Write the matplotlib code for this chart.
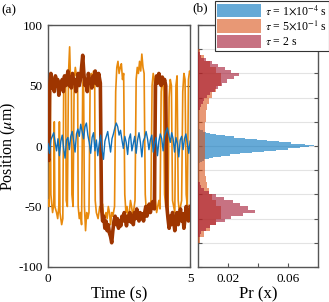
import matplotlib
matplotlib.use('Agg')
import matplotlib.pyplot as plt
import numpy as np

plt.rcParams['font.family'] = ['Liberation Serif', 'DejaVu Serif']
plt.rcParams['mathtext.fontset'] = 'stix'

# ---- time traces (panel a) ----
t_blue = np.linspace(0, 5, 101)
x_blue = [2, -6, 5, 8, 11, 3, -4, 6, -8, 4, 9, -2, -10, 5, 7, -3, 8, 12, 4, -5,
          10, 14, 8, 18, 12, 6, 16, 19, 9, 3, -6, 7, 11, -4, 5, -8, 2, 9, -3, -11,
          4, 8, 12, 3, -5, 6, 10, 15, 19, 16, 9, 13, 5, -2, 8, 3, -7, 6, 10, -4,
          2, 8, -6, 5, 11, 3, -9, 4, 7, 12, 6, -3, 5, 9, -5, 2, 7, -8, 4, 10,
          6, -4, 8, 12, 15, 9, 3, 11, 6, -5, 7, 2, -9, 5, 8, -3, 6, 10, 2, -6, 4]

t_orange = [0.00, 0.04, 0.06, 0.08, 0.10, 0.16, 0.20, 0.22, 0.24, 0.30, 0.34, 0.38, 0.40, 0.42,
            0.48, 0.52, 0.55, 0.58, 0.62, 0.64, 0.68, 0.72, 0.76, 0.79, 0.82, 0.84, 0.88, 0.92,
            0.96, 1.00, 1.04, 1.06, 1.10, 1.14, 1.18, 1.22, 1.25, 1.28, 1.32, 1.36, 1.40, 1.44,
            1.48, 1.52, 1.56, 1.60, 1.64, 1.66, 1.70, 1.76, 1.82, 1.88, 1.92, 1.96, 2.00, 2.04,
            2.08, 2.12, 2.16, 2.20, 2.24, 2.28, 2.34, 2.38, 2.42, 2.46, 2.50, 2.54, 2.58, 2.62,
            2.66, 2.70, 2.74, 2.78, 2.82, 2.86, 2.90, 2.94, 2.98, 3.02, 3.06, 3.10, 3.14, 3.18,
            3.22, 3.26, 3.30, 3.34, 3.38, 3.42, 3.46, 3.50, 3.54, 3.58, 3.62, 3.66, 3.70, 3.74,
            3.78, 3.82, 3.86, 3.90, 3.94, 3.98, 4.02, 4.06, 4.10, 4.14, 4.18, 4.22, 4.26, 4.30,
            4.34, 4.38, 4.42, 4.46, 4.50, 4.54, 4.58, 4.62, 4.66, 4.70, 4.74, 4.78, 4.82, 4.86,
            4.90, 4.94, 4.98, 5.00]
x_orange = [-45, -50, 30, 45, -40, -55, -48, 20, -50, -55, -60, -50, 20, -55,
            -65, -60, 45, 55, 50, -45, -50, 60, 82, 55, 60, -40, -50, 55,
            65, 58, 60, -50, -60, -55, -65, 50, 55, -50, -70, -55, -60, -55,
            50, 60, 55, 62, 58, -45, -55, -60, -50, -55, -48, -62, -58, -55,
            -60, -50, -55, -65, -55, -58, -50, 45, 65, 70, 60, 65, 68, 55,
            60, -40, -55, -50, -60, -55, -45, -50, -58, -52, -45, 55, 65, 60,
            70, 62, 76, 65, 60, -40, -55, -50, -48, -55, -45, 50, 60, 55,
            -45, -55, -50, -45, -52, 45, 55, 50, -40, -50, -45, -55, 40, 55,
            50, -45, -50, -55, 50, 58, -45, -55, -50, -45, 45, 60, 55, -40,
            -50, 55, 62, 60]

t_dark = [0.00, 0.03, 0.06, 0.10, 0.14, 0.18, 0.22, 0.26, 0.30, 0.34, 0.38, 0.42, 0.46, 0.50,
          0.54, 0.58, 0.62, 0.66, 0.70, 0.74, 0.78, 0.82, 0.86, 0.90, 0.94, 0.98, 1.02, 1.06,
          1.10, 1.14, 1.18, 1.22, 1.26, 1.30, 1.34, 1.38, 1.42, 1.46, 1.50, 1.54, 1.58, 1.62,
          1.66, 1.70, 1.74, 1.78, 1.84, 1.88, 1.92, 1.96, 2.00, 2.04, 2.08, 2.12, 2.16, 2.20,
          2.24, 2.28, 2.32, 2.36, 2.40, 2.44, 2.48, 2.52, 2.56, 2.60, 2.64, 2.68, 2.72, 2.76,
          2.80, 2.84, 2.88, 2.92, 2.96, 3.00, 3.04, 3.08, 3.12, 3.16, 3.20, 3.24, 3.28, 3.32,
          3.36, 3.40, 3.44, 3.48, 3.52, 3.56, 3.60, 3.64, 3.68, 3.74, 3.78, 3.82, 3.86, 3.90,
          3.94, 3.98, 4.02, 4.06, 4.10, 4.14, 4.18, 4.22, 4.26, 4.30, 4.34, 4.38, 4.42, 4.46,
          4.50, 4.54, 4.58, 4.62, 4.66, 4.70, 4.74, 4.78, 4.82, 4.86, 4.90, 4.94, 4.98, 5.00]
x_dark = [-10, -12, 50, 60, 48, 55, 45, 58, 50, 55, 42, 52, 48, 55,
          45, 58, 50, 55, 62, 50, 57, 48, 60, 52, 55, 45, 52, 60,
          50, 55, 65, 75, 60, 50, 55, 45, 60, 52, 55, 48, 58, 52,
          62, 55, 50, 60, 52, -50, -62, -58, -68, -62, -70, -65, -72, -75,
          -80, -70, -62, -58, -65, -60, -68, -62, -66, -58, -62, -55, -60, -66,
          -58, -62, -55, -63, -58, -65, -55, -60, -52, -58, -62, -55, -60, -56,
          -62, -55, -50, -58, -54, -48, -55, -50, -46, -52, 50, 58, 52, 60,
          55, 50, 57, 52, 55, 50, -50, -60, -68, -58, -65, -55, -62, -70,
          -60, -55, -65, -58, -52, -62, -56, -68, -60, -50, -58, -62, -55, -50]

# ---- histograms (panel b) ----
blue_edges = np.arange(-15, 16, 1)
pr_blue = [0.0005, 0.0012, 0.0025, 0.004, 0.007, 0.010, 0.015, 0.021, 0.028, 0.036,
           0.044, 0.052, 0.060, 0.068, 0.074, 0.077, 0.071, 0.062, 0.054, 0.046,
           0.039, 0.031, 0.024, 0.018, 0.012, 0.008, 0.005, 0.003, 0.0015, 0.0005]

orange_edges = np.arange(-80, 81, 5)
pr_orange = [0.001, 0.004, 0.008, 0.012, 0.015, 0.015, 0.012, 0.009, 0.007, 0.006,
             0.005, 0.0048, 0.0045, 0.0044, 0.0043, 0.0043, 0.0043, 0.0044, 0.0045, 0.0047,
             0.005, 0.0055, 0.006, 0.007, 0.009, 0.012, 0.015, 0.015, 0.012, 0.008,
             0.004, 0.001]

red_edges = np.arange(-80, 80.1, 2.5)
pr_red = [0, 0, 0.001, 0.002, 0.005, 0.008, 0.012, 0.018, 0.022, 0.030,
          0.038, 0.033, 0.028, 0.023, 0.017, 0.012, 0.007, 0.004, 0.002, 0.001,
          0, 0, 0, 0, 0, 0, 0, 0, 0, 0,
          0, 0, 0, 0, 0, 0, 0, 0, 0, 0,
          0, 0, 0, 0, 0.001, 0.002, 0.003, 0.004, 0.006, 0.008,
          0.011, 0.013, 0.016, 0.019, 0.024, 0.027, 0.022, 0.018, 0.013, 0.009,
          0.005, 0.002, 0.001, 0]

labels = [r'$\tau$ = 1$\times$10$^{-4}$ s', r'$\tau$ = 5$\times$10$^{-1}$ s', r'$\tau$ = 2 s']

fig = plt.figure(figsize=(3.29, 3.02), dpi=100)
ax1 = fig.add_axes([0.146, 0.116, 0.432, 0.801])
ax2 = fig.add_axes([0.602, 0.116, 0.365, 0.801])

grid_c = '#e3e3e3'
spine_c = '#555555'

ax1.plot(t_orange, x_orange, color='#E8890C', lw=1.2, zorder=3)
ax1.plot(t_dark, x_dark, color='#9E3500', lw=2.6, zorder=4)
ax1.plot(t_blue, x_blue, color='#1070BA', lw=1.0, zorder=5)
ax1.set_xlim(0, 5)
ax1.set_ylim(-100, 100)
ax1.set_xticks([0, 5])
ax1.set_yticks([-100, -50, 0, 50, 100])
ax1.set_yticklabels(['-100', '-50', '0', '50', '100'])
ax1.set_xlabel('Time (s)', fontsize=12, labelpad=1)
ax1.set_ylabel(r'Position ($\mu$m)', fontsize=11.5, labelpad=0)
ax1.yaxis.grid(True, color=grid_c, lw=0.8, zorder=0)

ax2.stairs(pr_blue, blue_edges, orientation='horizontal', fill=True,
           color='#0072BD', alpha=0.6, lw=0, label=labels[0], zorder=2)
ax2.stairs(pr_orange, orange_edges, orientation='horizontal', fill=True,
           color='#D95319', alpha=0.6, lw=0, label=labels[1], zorder=3)
ax2.stairs(pr_red, red_edges, orientation='horizontal', fill=True,
           color='#A2142F', alpha=0.6, lw=0, label=labels[2], zorder=4)
ax2.set_xlim(0, 0.08)
ax2.set_ylim(-100, 100)
ax2.set_yticks(np.arange(-100, 101, 20))
ax2.set_yticklabels([])
ax2.set_xticks([0.02, 0.04, 0.06])
ax2.set_xticklabels(['0.02', '', '0.06'])
ax2.set_xlabel('Pr (x)', fontsize=12, labelpad=1)
ax2.yaxis.grid(True, color=grid_c, lw=0.8, zorder=0)

for ax in (ax1, ax2):
    ax.set_axisbelow(True)
    ax.tick_params(direction='in', length=3, width=0.8, colors=spine_c,
                   labelcolor='black', labelsize=9.5, left=True, right=True,
                   top=True, bottom=True, pad=4)
    for s in ax.spines.values():
        s.set_color(spine_c)
        s.set_linewidth(1.0)

fig.text(0.005, 0.965, '(a)', fontsize=9.5, va='center')
fig.text(0.585, 0.972, '(b)', fontsize=9.5, va='center')

leg = fig.legend(loc='upper right', bbox_to_anchor=(1.0, 0.997), fontsize=8.5,
                 handlelength=3.7, handleheight=1.35, handletextpad=0.3,
                 labelspacing=0.15, borderpad=0.2, borderaxespad=0,
                 fancybox=False, framealpha=1, edgecolor='#333333')
leg.get_frame().set_linewidth(0.8)

fig.savefig('out.png', dpi=100)
